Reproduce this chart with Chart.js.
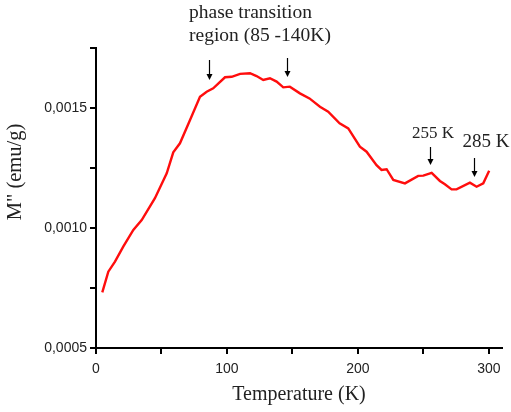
<!DOCTYPE html>
<html>
<head>
<meta charset="utf-8">
<script src="https://cdn.jsdelivr.net/npm/chart.js@4.4.0/dist/chart.umd.min.js"></script>
<style>
  html, body { margin: 0; padding: 0; background: #fff; }
  #wrap { width: 511px; height: 412px; }
</style>
</head>
<body>
<div id="wrap"><canvas id="my-chart" width="511" height="412"></canvas></div>
<script>
// temperature (K)
const temps = [4.8, 9.4, 14.5, 20.8, 28.5, 34.9, 45, 54, 59, 64.1, 71.8, 79.4, 84.5, 89.5, 98.5, 103.6,
    110, 117.6, 122.6, 127.7, 132.8, 137.9, 143, 148, 155.7, 163, 171, 177.3, 186, 192.6, 201.5,
    206.6, 214.2, 218, 221.9, 227, 235.9, 246, 249.9, 256.3, 262.6, 266.4, 271.5, 275.3, 285.5,
    290.6, 295.7, 300.2];
// M'' (emu/g)
const mValues = [0.000732, 0.000818, 0.00086, 0.000922, 0.000992, 0.001033, 0.001124, 0.001228,
    0.001315, 0.001353, 0.00145, 0.001547, 0.001568, 0.001582, 0.001628, 0.00163,
    0.001642, 0.001645, 0.001633, 0.001617, 0.001624, 0.00161, 0.001586, 0.001589, 0.001561,
    0.00154, 0.001505, 0.001485, 0.001436, 0.001415, 0.001339, 0.001318, 0.001262, 0.001242,
    0.001245, 0.0012, 0.001186, 0.001217, 0.001218, 0.00123, 0.001196, 0.001182, 0.001161,
    0.001161, 0.001189, 0.001172, 0.001186, 0.001239];
const xLabels = [0, 100, 200, 300];
const yLabels = [0.0005, 0.0010, 0.0015];
// arrow annotations: temperature of arrow, pixel y of tail and tip
const arrowTemps = [86, 146, 255, 289];
const arrowTails = [60, 58, 147, 158];
const arrowTips = [80, 77, 165, 177];

const serif = '"Liberation Serif", "Times New Roman", serif';
const sans = '"Liberation Sans", Arial, sans-serif';

const overlay = {
    id: 'overlay',
    afterDraw(chart) {
        const c = chart.ctx;
        const xs = chart.scales.x;
        c.save();
        c.strokeStyle = '#000';
        c.fillStyle = '#000';
        c.lineWidth = 1.2;
        arrowTemps.forEach((t, i) => {
            const px = Math.round(xs.getPixelForValue(t)) + 0.5;
            c.beginPath();
            c.moveTo(px, arrowTails[i]);
            c.lineTo(px, arrowTips[i] - 4);
            c.stroke();
            c.beginPath();
            c.moveTo(px - 3, arrowTips[i] - 6);
            c.lineTo(px + 3, arrowTips[i] - 6);
            c.lineTo(px, arrowTips[i]);
            c.closePath();
            c.fill();
        });
        c.fillStyle = '#222';
        c.textBaseline = 'middle';
        c.textAlign = 'left';
        c.font = '19.5px ' + serif;
        c.fillText('phase transition', 189, 13);
        c.fillText('region (85 -140K)', 189, 36);
        c.textAlign = 'center';
        c.font = '17px ' + serif;
        c.fillText('255 K', 433, 134);
        c.font = '19px ' + serif;
        c.fillText('285 K', 486, 142);
        // y axis title
        c.font = '20.5px ' + serif;
        c.translate(16, 172);
        c.rotate(-Math.PI / 2);
        c.fillText('M" (emu/g)', 0, 0);
        c.restore();
    }
};

new Chart(document.getElementById('my-chart').getContext('2d'), {
    type: 'line',
    data: {
        labels: temps,
        datasets: [{
            data: temps.map((t, i) => ({ x: t, y: mValues[i] })),
            borderColor: '#ff0d0d',
            borderWidth: 2.4,
            pointRadius: 0,
            tension: 0,
            fill: false
        }]
    },
    options: {
        responsive: false,
        animation: false,
        layout: { padding: { top: 48, right: 9, left: 0, bottom: 0 } },
        plugins: { legend: { display: false }, tooltip: { enabled: false } },
        scales: {
            x: {
                type: 'linear',
                min: 0,
                max: 310,
                afterBuildTicks: s => { s.ticks = [0, 50, 100, 150, 200, 250, 300].map(v => ({ value: v })); },
                afterFit: s => { s.height = 64; },
                border: { color: '#000', width: 2 },
                grid: { drawOnChartArea: false, tickLength: 6, color: '#000', lineWidth: 2 },
                ticks: {
                    color: '#222',
                    font: { family: sans, size: 14 },
                    padding: 7,
                    maxRotation: 0,
                    callback: v => xLabels.includes(v) ? String(v) : ''
                },
                title: {
                    display: true,
                    text: 'Temperature (K)',
                    color: '#222',
                    font: { family: serif, size: 20 },
                    padding: { top: 0, bottom: 5 }
                }
            },
            y: {
                min: 0.0005,
                max: 0.00175,
                afterBuildTicks: s => { s.ticks = [0.0005, 0.00075, 0.001, 0.00125, 0.0015, 0.00175].map(v => ({ value: v })); },
                afterFit: s => { s.width = 96; },
                border: { color: '#000', width: 2 },
                grid: { drawOnChartArea: false, tickLength: 6, color: '#000', lineWidth: 2 },
                ticks: {
                    color: '#222',
                    font: { family: sans, size: 14 },
                    padding: 3,
                    callback: v => yLabels.some(l => Math.abs(l - v) < 1e-9) ? v.toFixed(4).replace('.', ',') : ''
                }
            }
        }
    },
    plugins: [overlay]
});
</script>
</body>
</html>
